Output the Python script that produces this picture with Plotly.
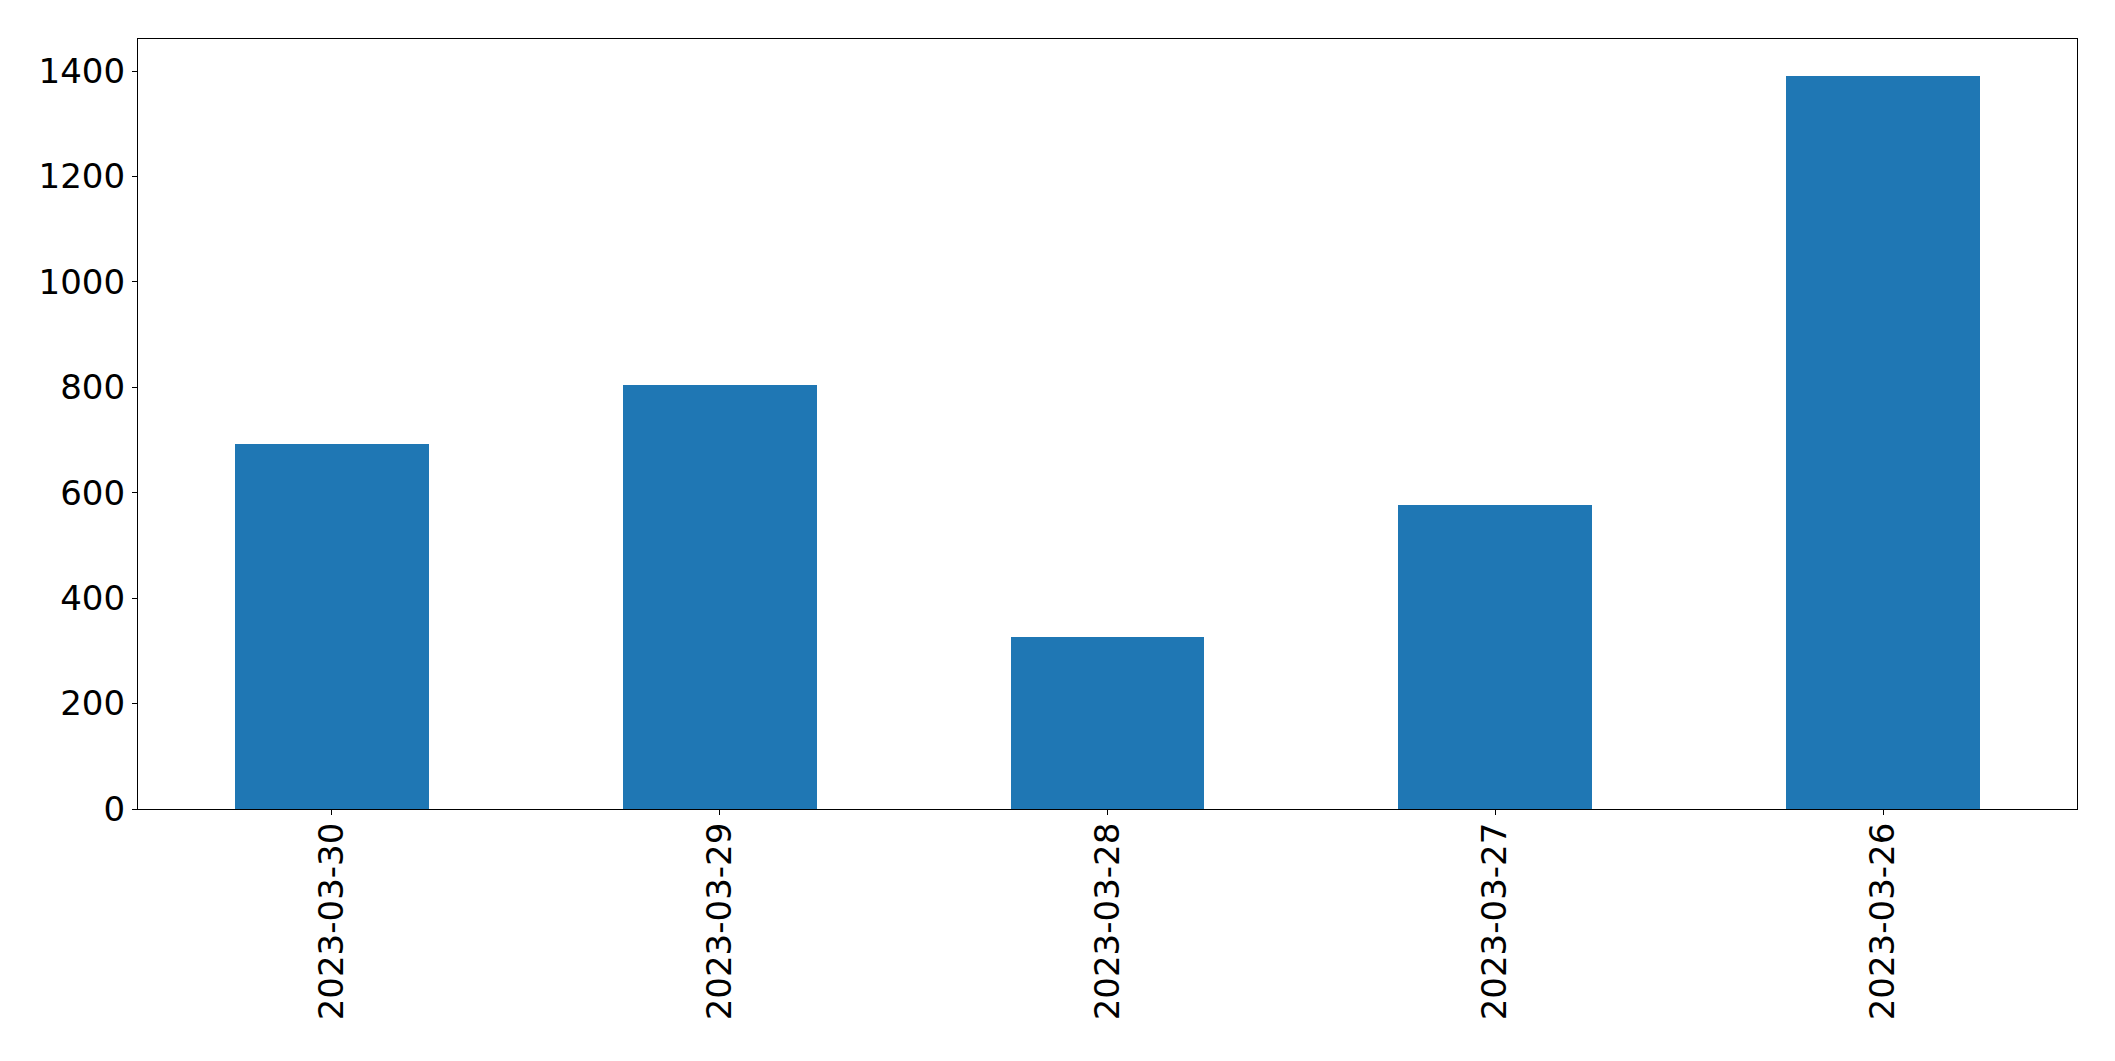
import plotly.graph_objects as go

dates = ["2023-03-30", "2023-03-29", "2023-03-28", "2023-03-27", "2023-03-26"]
values = [692, 804, 326, 577, 1391]
y_ticks = [0, 200, 400, 600, 800, 1000, 1200, 1400]

fig = go.Figure(
    go.Bar(
        x=dates,
        y=values,
        width=0.5,
        marker=dict(color="#1f77b4", line=dict(width=0)),
    )
)

font = dict(family="DejaVu Sans", size=34, color="black")

fig.update_layout(
    width=2107,
    height=1053,
    margin=dict(l=130, r=38, t=31, b=252),
    paper_bgcolor="white",
    plot_bgcolor="white",
    showlegend=False,
    bargap=0,
    font=font,
)
fig.update_xaxes(
    type="category",
    range=[-0.5, 4.5],
    tickangle=-90,
    ticks="outside",
    ticklen=5,
    tickwidth=1.2,
    tickcolor="black",
    ticklabelstandoff=-6,
    showline=True,
    linecolor="black",
    linewidth=1.2,
    mirror=True,
    showgrid=False,
    tickfont=font,
)
fig.update_yaxes(
    range=[0, 1460.8],
    tickvals=y_ticks,
    ticks="outside",
    ticklen=5,
    tickwidth=1.2,
    tickcolor="black",
    showline=True,
    linecolor="black",
    linewidth=1.2,
    mirror=True,
    showgrid=False,
    zeroline=False,
    tickfont=font,
)

fig.write_html("out.html")
